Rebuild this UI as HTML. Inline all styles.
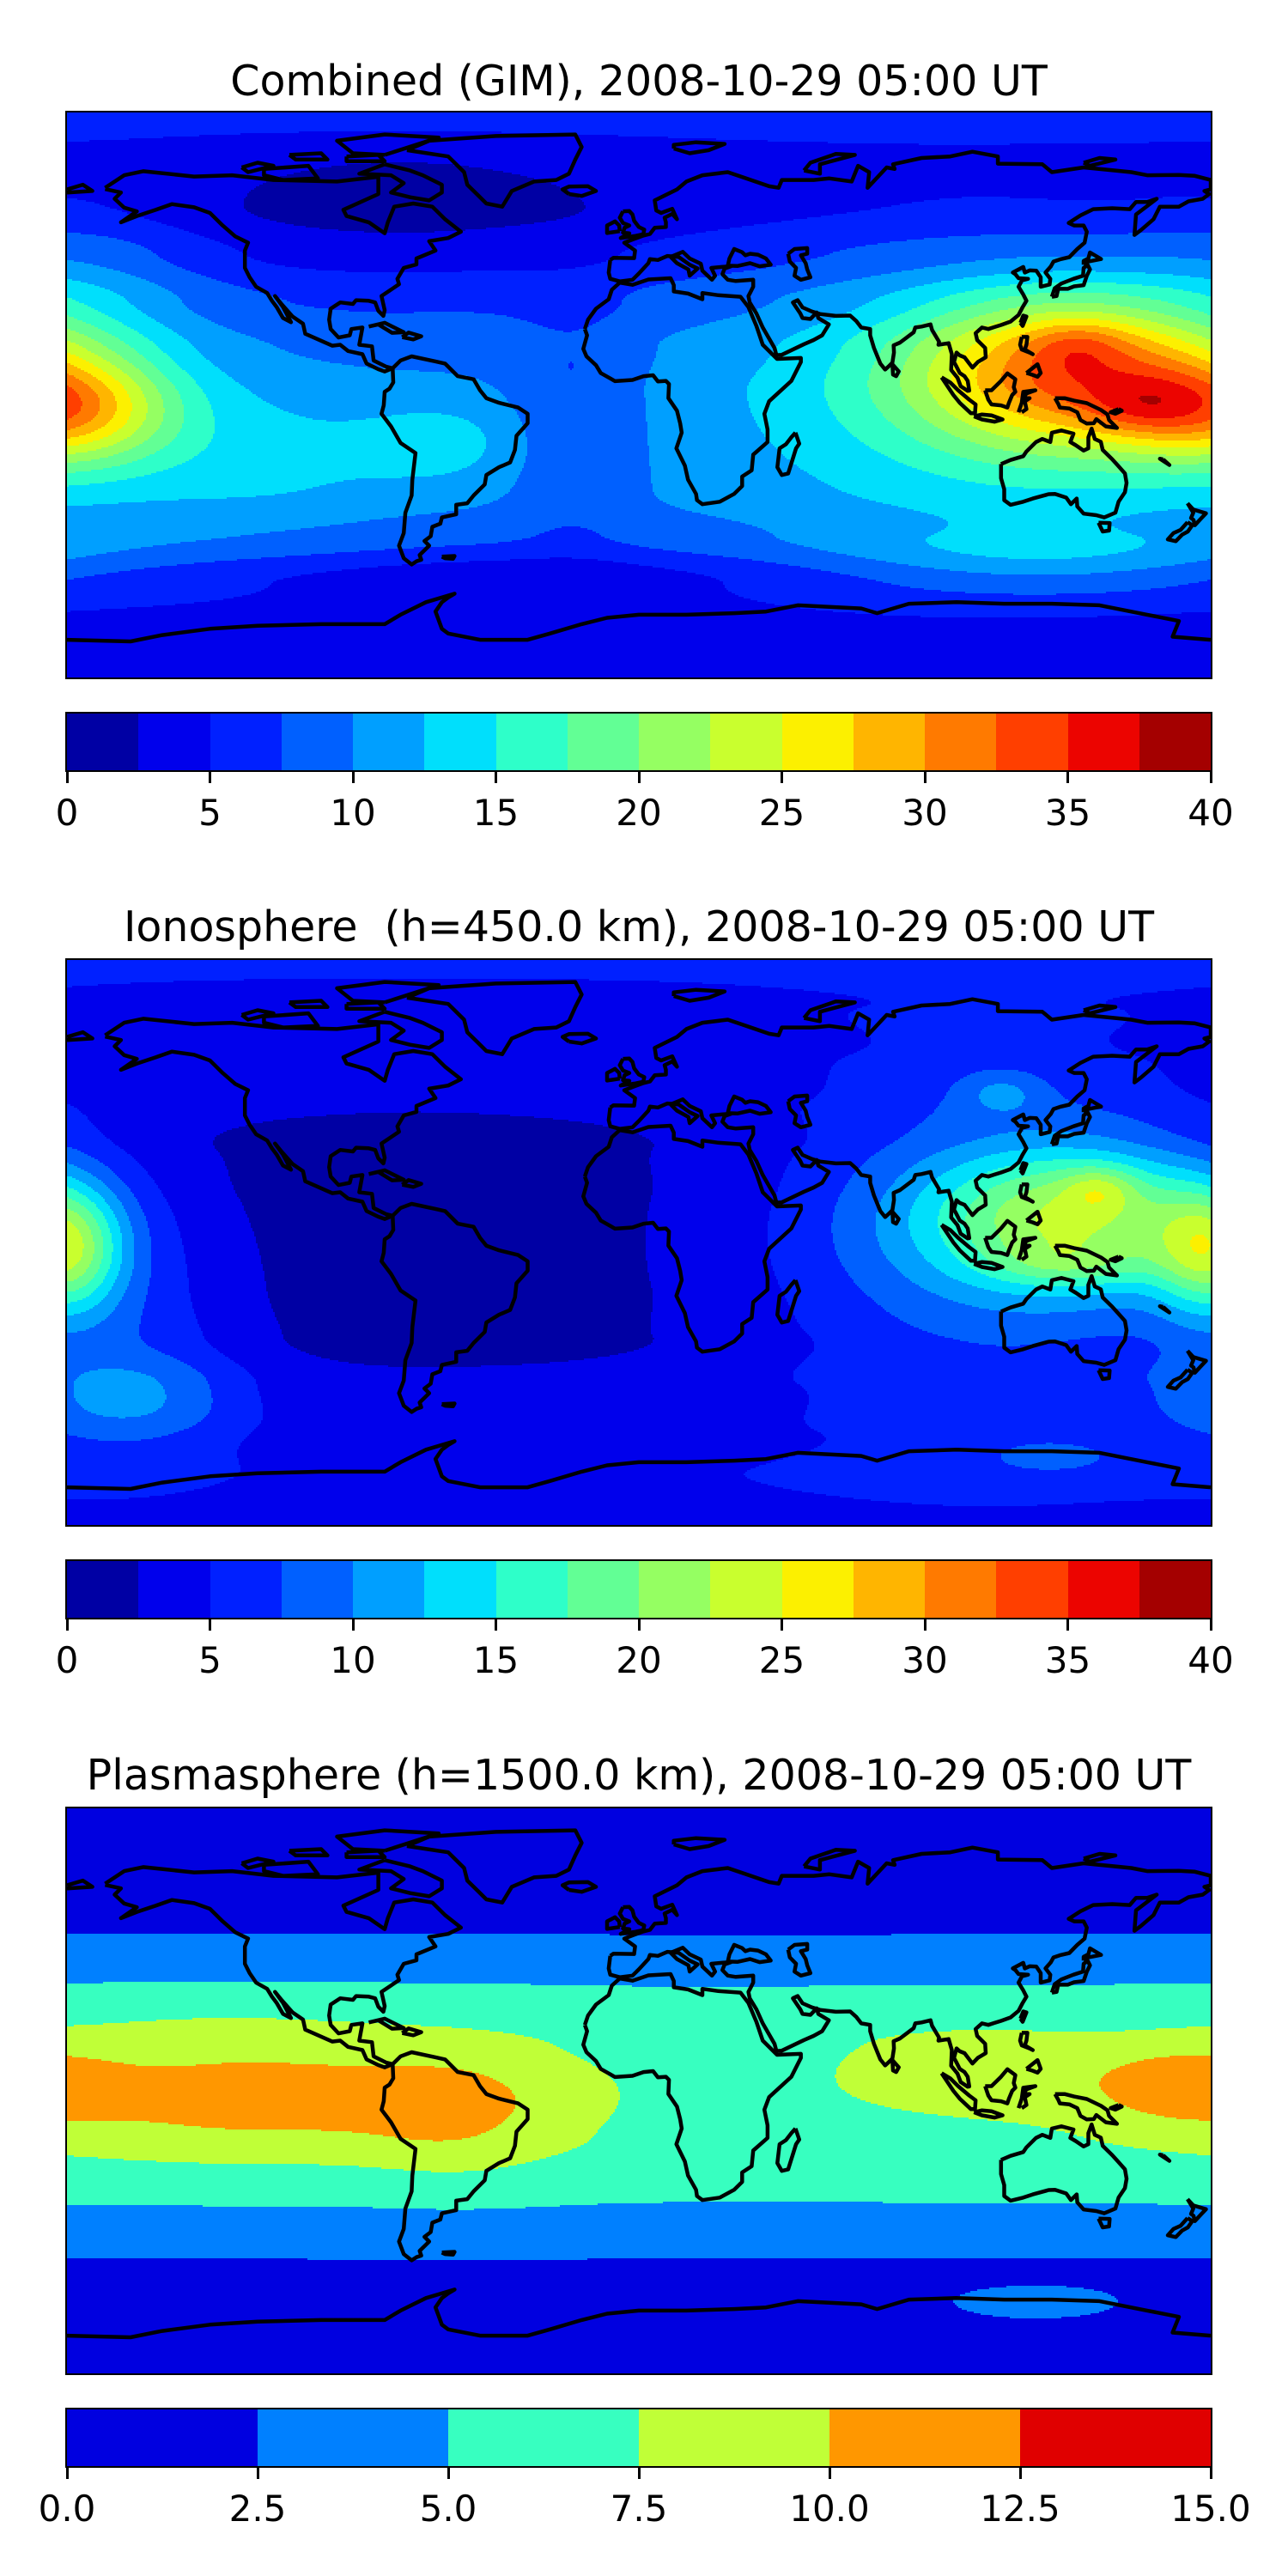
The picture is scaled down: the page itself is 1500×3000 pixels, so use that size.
<!DOCTYPE html>
<html><head><meta charset="utf-8"><style>
body{margin:0;background:#fff;width:1500px;height:3000px;position:relative;overflow:hidden;font-family:"DejaVu Sans","Liberation Sans",sans-serif}
.title{position:absolute;left:78px;width:1332px;text-align:center;font-size:49px;line-height:1;color:#000;white-space:nowrap}
.map{position:absolute;left:78px;width:1332px;height:658px}
.map canvas{position:absolute;left:0;top:0;width:1332px;height:658px;image-rendering:pixelated}
.map svg{position:absolute;left:0;top:0}
.frame{position:absolute;left:-2px;top:-2px;width:1332px;height:658px;border:2px solid #000}
.cbar{position:absolute;left:78px;width:1332px;height:66px}
.tick{position:absolute;width:3px;height:15px;background:#000}
.tl{position:absolute;font-size:42px;width:160px;margin-left:-80px;text-align:center;line-height:1}
</style></head><body>
<div class="title" style="top:70px">Combined (GIM), 2008-10-29 05:00 UT</div>
<div class="map" id="m0" style="top:131px"></div>
<div class="cbar" id="c0" style="top:831px"></div>
<div class="title" style="top:1055px">Ionosphere&nbsp; (h=450.0 km), 2008-10-29 05:00 UT</div>
<div class="map" id="m1" style="top:1118px"></div>
<div class="cbar" id="c1" style="top:1818px"></div>
<div class="title" style="top:2043px">Plasmasphere (h=1500.0 km), 2008-10-29 05:00 UT</div>
<div class="map" id="m2" style="top:2106px"></div>
<div class="cbar" id="c2" style="top:2806px"></div>
<script>
// ---- data ----
const baseLats=[90,75,60,45,30,15,0,-15,-30,-45,-60,-75,-90];
const baseCombined=[6.5,4,3.8,5.5,7.5,9,9.5,9.5,9.5,8.5,5.5,4,4.5];
const baseIono=[5.5,4,3.2,2.6,1.6,1.4,1.4,1.4,1.6,2.8,3.5,4.5,4];
const basePlasma=[1,1,1.5,2.8,5.3,6.6,6.9,6.6,5.6,3.6,1.8,1.3,1.3];
// blobs: [lon, lat, sigmaLon, sigmaLat, amplitude]
const blobsCombined=[[138,7,36,18,19.5],[158,-4,12,6,3],[138,16,11,6,3.5],[-178,-5,22,12,13],[100,2,60,35,5],[-120,-20,40,18,3.5],[-60,-15,20,10,3],[-75,58,55,16,-2.5],[-20,-8,14,25,-3],[-40,-58,55,8,-2.5],[130,-52,45,8,4],[-170,40,25,18,2.5]];
const blobsIono=[[138,8,34,16,15],[145,17,8,5,5],[135,-7,18,5,3.5],[-180,-3,12,14,13],[110,0,55,40,7.5],[114,48,10,5,4],[-160,-50,25,10,4.5],[-160,-30,25,25,3.5],[130,-68,15,4,3]];
const blobsPlasma=[[-120,-3,60,14,4.2],[-55,-8,22,16,2],[105,8,32,10,2],[170,2,18,8,3.2],[125,-68,20,4,2.2],[-130,20,40,8,1],[25,0,20,15,-0.8]];
const levelsFull=[0,2.5,5,7.5,10,12.5,15,17.5,20,22.5,25,27.5,30,32.5,35,37.5,40];
const ticksFull=[0,5,10,15,20,25,30,35,40];
const levelsPlasma=[0,2.5,5,7.5,10,12.5,15];
const ticksPlasma=["0.0","2.5","5.0","7.5","10.0","12.5","15.0"];
// coastlines (lon,lat)
const coasts=[
[[-168,66],[-162,70],[-156,71.3],[-140,69.6],[-128,70],[-115,68.5],[-95,68],[-82,69.5],[-82,64],[-93,59],[-92,57],[-85,55],[-80,51.5],[-79,55],[-77,60],[-71,61],[-65,60],[-61,56],[-56,52],[-60,50],[-66,49],[-64,46],[-70,43.5],[-70,41.6],[-74,40.5],[-76,37],[-75.5,35.3],[-81,31.5],[-80,27],[-80.4,25.2],[-82,26.8],[-83,29.5],[-85,30],[-89,30.2],[-90,29],[-94,29.5],[-97,27.5],[-97.5,24],[-97,21],[-94.5,18.3],[-91,19],[-90.5,21],[-87,21.5],[-88,16],[-84,15.5],[-83.5,11],[-79.5,9],[-77.5,8.5],[-80,7.5],[-82,8.2],[-85.7,10],[-87,13],[-91.5,14],[-94,16],[-96.5,15.7],[-105,19.5],[-105.7,22.7],[-109,25],[-112.5,29],[-114.5,31.5],[-112,28],[-109.5,23.2],[-112,24.5],[-114,28],[-115.5,30],[-117,32.5],[-120.5,34.5],[-122.5,37.5],[-124,40.5],[-124,46],[-123,48.5],[-127,50.5],[-131,54],[-135,58],[-140,59.8],[-147,60.8],[-152,59],[-158,57],[-163,55],[-158,58.5],[-162,59.7],[-165,62.5],[-163,64.5],[-168,65.6]],
[[-77.5,8.5],[-75,11],[-71.5,12.3],[-64,10.7],[-61,10],[-57,6],[-52,5],[-50,1.5],[-48,-1],[-44,-2.5],[-38,-4],[-35,-6],[-35,-9],[-38.5,-13],[-39,-17.5],[-40.5,-21.5],[-44,-23],[-48,-25.5],[-48.5,-28.5],[-52,-32],[-54,-34.5],[-57.5,-35],[-57.5,-38],[-62,-39],[-62.5,-41],[-65,-42],[-65.5,-45],[-67.5,-46.5],[-66,-48],[-69,-51],[-68.5,-52.5],[-70,-53],[-71.5,-54],[-74,-52],[-75.5,-48],[-74,-44],[-73.5,-37.5],[-71.5,-32],[-71.3,-27],[-70.3,-18.5],[-75,-15.3],[-78,-10],[-81,-6],[-80.3,-3.3],[-80,1],[-78.5,2],[-77.3,4],[-77.5,8.5]],
[[-73,78],[-66,81],[-45,82.5],[-20,83],[-18,79],[-20,75],[-22,70.5],[-26,68.5],[-33,68],[-40,65],[-43,60],[-48,61],[-51,64],[-54,67],[-55,71],[-60,76],[-73,78]],
[[-17,21],[-16,24],[-13.5,27.5],[-9.5,30.5],[-8.5,33.5],[-6,35.8],[-2,35.1],[3,36.8],[10,37.2],[11,35],[11,33],[15.5,32.3],[20,30.5],[20,32.5],[25,31.8],[32,31.3],[34.5,28],[37,22],[39,16],[42,13],[43.5,11.5],[51,11.8],[51,10.5],[48,4.5],[41,-2],[39.5,-6],[40.5,-11],[40.5,-15],[36,-19],[35.5,-24],[32.5,-26],[32.5,-29],[30,-31.5],[25.5,-34],[20,-34.8],[18.3,-33.5],[18,-31.5],[15.5,-27],[14.5,-22.5],[11.8,-17],[13.5,-12],[13,-9],[12,-5],[9.3,-1],[9.5,3.5],[8.5,4.5],[6,4.3],[4.5,6.3],[1.5,6],[-2,4.8],[-7.5,4.4],[-12,7],[-13.5,9.5],[-16.5,12.3],[-17.5,14.7],[-16.3,19],[-17,21]],
[[49.3,-12],[50.5,-15.5],[49.5,-17],[47,-25],[45,-25.5],[43.6,-23],[44.3,-17],[46.3,-15.7],[48,-13.5],[49.3,-12]],
[[-9,43],[-9.5,39],[-9,37],[-6,36.2],[-2,36.7],[0,38.7],[3,42],[3.5,43.3],[6,43],[9,44.3],[12.5,44],[16,41.5],[18.5,40.3],[16,38],[15.6,40],[12,42],[10,44],[13.8,45.6],[16,43.5],[19.5,41.8],[20,39.6],[23,36.7],[24,38],[22.8,40.5],[26,40.8],[29,41],[27,40.3],[26.3,38.5],[28,36.7],[30.5,36.3],[36,36.7],[36,34.5],[35,32.5],[34.5,31.5],[34.9,29.5],[37,26],[39,21.5],[42.7,15],[43.3,12.7],[45,12.8],[52,16.2],[55,17.5],[57.7,19],[59.8,22.5],[56.5,24.5],[56,26.3],[54,24.2],[51.5,24.5],[50.8,26],[48.5,29.5],[50,30.2],[51.5,27.9],[54.5,26.6],[57,25.8],[62,25.2],[66.5,25.3],[68.5,23.5],[70,21.5],[72.8,21],[72.8,19],[74,15],[76,10],[77.5,8.1],[78.5,9],[79.8,10.3],[80.3,13.5],[80.2,15.8],[82.2,16.7],[86.5,20],[87,21.5],[89,21.8],[91.8,22.5],[92.3,20.7],[94.5,17],[94.3,16],[97.5,16.5],[98.5,13],[98.3,8],[100.3,5.5],[101.3,2.8],[103.5,1.3],[104,1.4],[103.5,4.5],[102.5,6],[101,7],[100,9],[99.2,10.5],[100,13.5],[101,12.6],[102.5,12],[105,8.7],[106.7,10.5],[109.2,12],[109,15],[106.5,17.5],[106,19.7],[108,21.5],[110,21],[111.8,21.6],[114,22.3],[117,23.4],[119.5,25.5],[120.8,28],[122,30],[121,32],[119.5,34.5],[120.6,36.5],[122.5,37],[119.5,37.2],[118.5,38.5],[117.7,39],[121,40.8],[121.5,39],[123,39.7],[125.1,39.6],[126.5,37.5],[126.5,34.5],[129.3,35.2],[129.5,37],[128,39],[129.7,41],[130.5,42.5],[132.5,43.2],[135.5,43.9],[138,46.5],[140.3,48.5],[141,52],[140,54],[137,54],[135.3,54.8],[139,57.2],[143,59.2],[149,59.5],[154.5,59.2],[156.5,61.5],[160,61.5],[163,62.5],[156.5,57.5],[156,51],[158,52.5],[162,56],[163,58],[164,60],[170,60],[173,61.7],[177.5,62.5],[179.5,64],[178,65],[180,65.5],[180,68.5],[175,69.8],[170,70.1],[160,70],[155,71],[150,71.5],[140,72.5],[130,71],[127,73.5],[113,73.7],[113,76],[105,77.5],[98,76],[89,75.5],[80,73.5],[80.5,72],[78,72.5],[72,66],[72.5,71],[69,73],[67,68],[60,69],[55,68.5],[45,68.5],[44,66],[41,66.5],[33,69.3],[28,71],[20,70],[15,68],[12,65.5],[5,62],[5.5,58.8],[7,58],[10.5,59.3],[12,56],[10.5,57.7],[8.1,56.5],[8.5,55],[8.5,53.5],[5,53.3],[3.5,51.3],[1.5,50.8],[-1.5,49.7],[-4.6,48.5],[-1.2,46],[-1.5,43.6],[-8,43.7],[-9,43]],
[[-180,65.5],[-175,67],[-172,65],[-180,64.5]],
[[28,41.2],[31,41.1],[35,42],[38,41],[41.5,41.5],[40,43.5],[37.5,44.7],[35,45],[33.5,44.5],[32.5,45.5],[30,46.5],[28.5,43.5],[28,41.2]],
[[47,45],[49,46.5],[53,46.8],[53,45],[51,44.5],[52.5,42],[53,40],[54,37.5],[51,36.7],[49,38],[49.5,40.5],[47.5,42.5],[47,45]],
[[-5,58.5],[-3,58.6],[-2,57.5],[-1.5,55.5],[0,53.5],[1.7,52.7],[1.4,51.2],[-1,50.7],[-5.7,50],[-3,51.5],[-5,51.7],[-4.5,53.3],[-3,54],[-5,54.8],[-6,56.5],[-5,58.5]],
[[-6,52.2],[-6.2,54],[-7.5,55.3],[-10,54],[-10,51.6],[-6,52.2]],
[[-22,64],[-24,65.5],[-22,66.4],[-16,66.5],[-13.5,65],[-18,63.4],[-22,64]],
[[130,31.3],[131.5,31.5],[132,33.8],[135,33.8],[137,34.6],[140,35],[141,38],[142,40],[141.3,41.4],[140,40.5],[139.8,38],[136.8,37],[133,35.5],[130.9,34],[130,31.3]],
[[140,41.5],[141.5,42.5],[145.5,43.3],[142,45.4],[141.5,43.5],[140,42.7],[140,41.5]],
[[79.8,9.8],[81.8,7.5],[81,6],[80,6.5],[79.8,9.8]],
[[95.3,5.6],[98,4],[100.5,1.5],[104,-1.5],[106,-3],[105.8,-5.8],[104.5,-5.8],[101,-2.5],[99,0],[95.3,5.6]],
[[109,1.5],[111,1.5],[114,4.5],[116,6.9],[118.5,5],[118,2.5],[118.5,1],[117.5,0],[116.5,-2.5],[116,-4],[114,-3.3],[111,-3],[110,-1.5],[109,1.5]],
[[105.5,-6.8],[108,-6.2],[111,-6.5],[114.5,-7.8],[112,-8.5],[108,-7.8],[105.5,-6.8]],
[[119.5,-5.5],[120.5,-2.5],[121,1],[124.8,1.5],[122,0.5],[121,-1],[123,-1],[121.5,-2],[122,-4.5],[120.5,-5.5]],
[[131,-1],[134,-1],[137,-1.8],[141,-2.6],[145.5,-4.8],[147.5,-6.2],[148,-8],[150.5,-10.5],[147,-10],[144,-7.7],[143.2,-9],[141,-9.1],[139,-8],[138,-5.5],[135.5,-4.3],[132.5,-4],[132,-2.8],[131,-1]],
[[120.5,18.5],[122.3,18.5],[122,16],[121.5,14.5],[124,13],[123,13.5],[120.5,14.5],[120,16],[120.5,18.5]],
[[122,7],[125.5,9.8],[126.5,7],[125.5,5.8],[124,6.4],[122,7]],
[[120.1,23],[121,25.3],[122,25],[120.8,22],[120.1,23]],
[[-85,21.8],[-80,23],[-74,20],[-77.7,19.8],[-82,22.5],[-85,21.8]],
[[-74.5,18.4],[-72.5,19.9],[-68.5,18.7],[-71,17.7],[-74.5,18.4]],
[[114,-22],[114,-26.5],[115,-30],[115,-33.5],[117,-35],[121,-34],[124,-33],[129,-31.6],[131,-31.5],[134.5,-32.7],[136,-34.8],[137.8,-33],[138,-35.5],[140,-37.8],[144,-38.3],[146.5,-39],[150,-37.5],[151,-34],[153,-31],[153.5,-28],[153,-25],[150.8,-22.5],[149,-20.5],[146,-17.5],[145.4,-14.9],[143.5,-14],[142.5,-10.7],[141.5,-13.5],[141.5,-17],[140,-17.7],[137.5,-16],[135.8,-15],[136.8,-12.3],[133,-11.3],[130,-12],[129.5,-15],[127,-14],[125,-15],[122,-18],[121,-19.5],[117,-20.7],[114,-22]],
[[144.7,-40.7],[148.2,-40.8],[148,-43.2],[146,-43.5],[144.7,-40.7]],
[[172.7,-34.5],[174.5,-36.5],[178.5,-37.7],[177,-39.3],[175,-41.5],[174.6,-39.8],[173.8,-39.2],[174.5,-37.5],[172.7,-34.5]],
[[172.7,-40.5],[174.2,-41.5],[172.8,-43.5],[171,-44.5],[169,-46.6],[166.5,-46],[168.3,-44],[170.5,-43],[172.7,-40.5]],
[[-180,-78],[-160,-78.5],[-150,-76.5],[-135,-74.5],[-120,-73.5],[-100,-73],[-80,-73],[-75,-70],[-67,-66],[-58,-63.3],[-60,-64.5],[-62,-66],[-64,-69],[-62,-74.5],[-60,-76],[-50,-78],[-35,-78],[-28,-76],[-18,-73],[-10,-71],[0,-70],[15,-70],[30,-69.5],[40,-69],[50,-67],[60,-67.5],[70,-68],[75,-69.5],[85,-66.5],[100,-66],[115,-66.5],[130,-66.5],[145,-67],[160,-70],[170,-72],[168,-77],[180,-78]],
[[11,78.5],[16,77],[22,78],[27,80],[18,80.5],[11,79.7],[11,78.5]],
[[52,71.5],[57,70.5],[57,73.5],[68,76.5],[62,76.8],[54,74],[52,71.5]],
[[-80,73.5],[-72,71.5],[-68,70],[-62,67],[-62,64.5],[-66,62],[-72,63],[-78,64.5],[-74,67.5],[-78,70],[-88,70.5],[-80,73.5]],
[[-80,76.5],[-63,82],[-80,83],[-95,81],[-90,77],[-80,76.5]],
[[-118,72],[-104,73],[-101,69],[-112,68.5],[-118,70],[-118,72]],
[[-125,72.5],[-120,74],[-115,73],[-123,71],[-125,72.5]],
[[-92,76],[-82,76.5],[-80,74.5],[-92,74.5],[-92,76]],
[[-110,76.5],[-100,77],[-98,75],[-108,75],[-110,76.5]],
[[140,74],[145,75.5],[150,75],[142,73],[140,74]],
[[-62,-51.5],[-58,-51.3],[-58.5,-52.2],[-61,-52],[-62,-51.5]],
[[165,-20.5],[167,-22.3],[164,-20.3],[165,-20.5]],
[[151,-4.5],[152,-5],[150,-6],[148.5,-5.5],[151,-4.5]]
];
// ---- rendering ----
const W=1332,H=658;
function xOf(lon){return (lon+180)/360*W;}
function yOf(lat){return (90-lat)/180*H;}
function jet(x){
 function seg(p,x){for(let i=1;i<p.length;i++){if(x<=p[i][0]){const a=p[i-1],b=p[i];return a[1]+(b[1]-a[1])*(x-a[0])/(b[0]-a[0]);}}return p[p.length-1][1];}
 const r=seg([[0,0],[0.35,0],[0.66,1],[0.89,1],[1,0.5]],x);
 const g=seg([[0,0],[0.125,0],[0.375,1],[0.64,1],[0.91,0],[1,0]],x);
 const b=seg([[0,0.5],[0.11,1],[0.34,1],[0.65,0],[1,0]],x);
 return [Math.round(r*255),Math.round(g*255),Math.round(b*255)];
}
function baseAt(prof,lat){
 for(let i=1;i<baseLats.length;i++){if(lat>=baseLats[i]){const t=(lat-baseLats[i-1])/(baseLats[i]-baseLats[i-1]);const u=(1-Math.cos(Math.PI*t))/2;return prof[i-1]+(prof[i]-prof[i-1])*u;}}
 return prof[prof.length-1];
}
function field(prof,blobs,lon,lat){
 let v=baseAt(prof,lat);
 for(const b of blobs){let d=((lon-b[0]+540)%360)-180;const e=(d/b[2])**2+((lat-b[1])/b[3])**2;v+=b[4]*Math.exp(-0.5*e);}
 return v;
}
const NS='http://www.w3.org/2000/svg';
function drawMap(id,prof,blobs,levels){
 const host=document.getElementById(id);
 const n=levels.length-1;const cols=[];for(let i=0;i<n;i++)cols.push(jet((i+0.5)/n));
 const cw=W/2|0,ch=H/2|0;
 const cv=document.createElement('canvas');cv.width=cw;cv.height=ch;
 
 
 const ctx=cv.getContext('2d');const img=ctx.createImageData(cw,ch);
 for(let j=0;j<ch;j++){const lat=90-(j+0.5)/ch*180;for(let i=0;i<cw;i++){const lon=-180+(i+0.5)/cw*360;
  const v=field(prof,blobs,lon,lat);let k=0;while(k<n-1&&v>=levels[k+1])k++;const c=cols[k];const p=(j*cw+i)*4;img.data[p]=c[0];img.data[p+1]=c[1];img.data[p+2]=c[2];img.data[p+3]=255;}}
 ctx.putImageData(img,0,0);host.appendChild(cv);
 const svg=document.createElementNS(NS,'svg');svg.setAttribute('width',W);svg.setAttribute('height',H);
 
 
 for(const c of coasts){const pl=document.createElementNS(NS,'polyline');
  pl.setAttribute('points',c.map(p=>xOf(p[0]).toFixed(1)+','+yOf(p[1]).toFixed(1)).join(' '));
  pl.setAttribute('fill','none');pl.setAttribute('stroke','#000');pl.setAttribute('stroke-width','4.5');pl.setAttribute('stroke-linejoin','round');
  
  
  svg.appendChild(pl);}
 host.appendChild(svg);
 const fr=document.createElement('div');fr.className='frame';
 
 
 host.appendChild(fr);
}
function drawBar(id,levels,ticks){
 const host=document.getElementById(id);const n=levels.length-1;
 const lo=levels[0],hi=levels[n];const xs=v=>(v-lo)/(hi-lo)*W;
 for(let i=0;i<n;i++){const c=jet((i+0.5)/n);const d=document.createElement('div');
  d.style.cssText=`position:absolute;top:0;height:66px;left:${xs(levels[i])}px;width:${xs(levels[i+1])-xs(levels[i])+0.5}px;background:rgb(${c})`;
  
  
  host.appendChild(d);}
 const fr=document.createElement('div');fr.style.cssText='position:absolute;left:-2px;top:-2px;width:1332px;height:66px;border:2px solid #000';
 
 
 host.appendChild(fr);
 for(const t of ticks){const v=parseFloat(t);const x=xs(v);
  const tk=document.createElement('div');tk.className='tick';tk.style.left=(x-1.5)+'px';tk.style.top='66px';
  
  
  host.appendChild(tk);
  const lb=document.createElement('div');lb.className='tl';lb.style.left=x+'px';lb.style.top='95px';lb.textContent=t;
  
  
  host.appendChild(lb);}
}
drawMap('m0',baseCombined,blobsCombined,levelsFull);
drawMap('m1',baseIono,blobsIono,levelsFull);
drawMap('m2',basePlasma,blobsPlasma,levelsPlasma);
drawBar('c0',levelsFull,ticksFull.map(String));
drawBar('c1',levelsFull,ticksFull.map(String));
drawBar('c2',levelsPlasma,ticksPlasma);
</script>
</body></html>
